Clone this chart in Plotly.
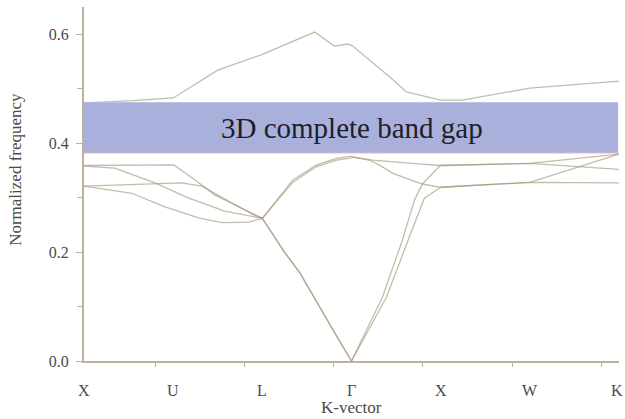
import plotly.graph_objects as go

# ---- data (k-path index, normalized frequency) ----
kpoint_labels = ["X", "U", "L", "Γ", "X", "W", "K"]
kpoint_pos = [0, 1, 2, 3, 4, 5, 6]
axis_tick_pos = [0.8, 1.8, 2.8, 3.8, 4.8, 5.8]

gap_low = 0.382
gap_high = 0.475
gap_label = "3D complete band gap"

top_k = [0, 0.55, 1, 1.5, 2, 2.586, 2.81, 2.944, 3, 3.235, 3.42, 3.616, 4, 4.243, 4.7, 5, 6]
top_f = [0.474, 0.478, 0.483, 0.534, 0.563, 0.604, 0.578, 0.582, 0.580, 0.549, 0.523, 0.494, 0.479, 0.479, 0.493, 0.501, 0.514]

a_k = [0, 1.007, 1.25, 1.466, 1.75, 2]
a_f = [0.359, 0.360, 0.332, 0.305, 0.282, 0.262]
b_k = [0, 0.347, 0.795, 1.175, 1.578, 1.914, 2]
b_f = [0.358, 0.354, 0.327, 0.299, 0.275, 0.264, 0.262]
c_k = [0, 0.728, 1.097, 1.321, 1.657, 1.88, 2]
c_f = [0.321, 0.325, 0.327, 0.321, 0.290, 0.270, 0.262]
d_k = [0, 0.537, 0.907, 1.287, 1.545, 1.847, 2]
d_f = [0.321, 0.308, 0.283, 0.263, 0.254, 0.255, 0.262]

ac_k = [2, 2.25, 2.418, 2.642, 2.82, 3]
ac1_f = [0.262, 0.200, 0.163, 0.099, 0.050, 0.0]
ac2_f = [0.262, 0.199, 0.162, 0.098, 0.049, 0.0]

op_k = [2, 2.194, 2.34, 2.608, 2.832, 3]
op1_f = [0.262, 0.302, 0.332, 0.360, 0.372, 0.376]
op2_f = [0.262, 0.299, 0.328, 0.357, 0.369, 0.373]

g1_k = [3, 3.347, 3.571, 3.705, 3.795, 4]
g1_f = [0.0, 0.117, 0.222, 0.295, 0.325, 0.360]
g3_k = [3, 3.392, 3.649, 3.817, 4]
g3_f = [0.0, 0.117, 0.228, 0.299, 0.319]
g2_k = [3, 3.2, 3.31, 3.46, 3.571, 3.795, 4]
g2_f = [0.375, 0.369, 0.360, 0.345, 0.338, 0.325, 0.319]
g4_k = [3, 3.235, 3.683, 4]
g4_f = [0.375, 0.369, 0.363, 0.359]

xwk_k = [4, 5, 6]
u1_f = [0.359, 0.363, 0.380]
u2_f = [0.359, 0.363, 0.352]
l1_f = [0.319, 0.328, 0.380]
l2_f = [0.319, 0.328, 0.327]

bands = [
    (top_k, top_f), (a_k, a_f), (b_k, b_f), (c_k, c_f), (d_k, d_f),
    (ac_k, ac1_f), (ac_k, ac2_f), (op_k, op1_f), (op_k, op2_f),
    (g1_k, g1_f), (g3_k, g3_f), (g2_k, g2_f), (g4_k, g4_f),
    (xwk_k, u1_f), (xwk_k, u2_f), (xwk_k, l1_f), (xwk_k, l2_f),
]

line_color = "rgba(165,152,125,0.65)"
axis_color = "#bdb29a"
label_color = "#4a4a4a"
serif = "Liberation Serif, Times New Roman, serif"

fig = go.Figure()
for k, f in bands:
    fig.add_trace(go.Scatter(x=k, y=f, mode="lines",
                             line=dict(color=line_color, width=1.3),
                             hoverinfo="skip", showlegend=False))

# band gap rectangle (drawn over the lines)
fig.add_shape(type="rect", xref="x", yref="y", x0=0, x1=5.99, y0=gap_low, y1=gap_high,
              fillcolor="#aab0dc", line=dict(width=0), layer="above")
fig.add_shape(type="line", xref="x", yref="y", x0=0, x1=5.99, y0=gap_low, y1=gap_low,
              line=dict(color="#dcb4c8", width=1), layer="above")

fig.add_annotation(x=3, y=(gap_low + gap_high) / 2, xref="x", yref="y",
                   text=gap_label, showarrow=False,
                   font=dict(family=serif, size=29, color="#1e1e2a"))

# k-point labels
for pos, lab in zip(kpoint_pos, kpoint_labels):
    fig.add_annotation(x=pos, y=0, xref="x", yref="paper", text=lab,
                       showarrow=False, yanchor="middle", yshift=-29,
                       xshift=(-2 if pos == 6 else 0),
                       font=dict(family=serif, size=16, color=label_color))

fig.add_annotation(x=3, y=0, xref="x", yref="paper", text="K-vector",
                   showarrow=False, yanchor="middle", yshift=-46,
                   font=dict(family=serif, size=17, color=label_color))
fig.add_annotation(x=0, y=0.54, xref="paper", yref="paper", text="Normalized frequency",
                   showarrow=False, textangle=-90, xanchor="center", yanchor="middle",
                   xshift=-68, font=dict(family=serif, size=17, color=label_color))

fig.update_xaxes(range=[0, 6], showgrid=False, zeroline=False, automargin=False,
                 showline=True, linecolor=axis_color, linewidth=2,
                 tickvals=axis_tick_pos, ticks="outside", ticklen=4,
                 tickcolor=axis_color, showticklabels=False)
fig.update_yaxes(range=[0, 0.65], showgrid=False, zeroline=False, automargin=False,
                 showline=True, linecolor=axis_color, linewidth=2,
                 tickvals=[0, 0.2, 0.4, 0.6], ticktext=["0.0", "0.2", "0.4", "0.6"],
                 ticks="outside", ticklen=6, tickcolor=axis_color,
                 minor=dict(tickvals=[0.1, 0.3, 0.5], ticks="outside", ticklen=5,
                            tickcolor=axis_color),
                 ticklabelstandoff=4,
                 tickfont=dict(family=serif, size=16, color=label_color))

fig.update_layout(width=625, height=419, margin=dict(l=84, r=6, t=7, b=58),
                  plot_bgcolor="white", paper_bgcolor="white")

fig.write_html("out.html", config={"displayModeBar": False},
               post_script="document.body.style.margin='0';document.body.style.overflow='hidden';")
